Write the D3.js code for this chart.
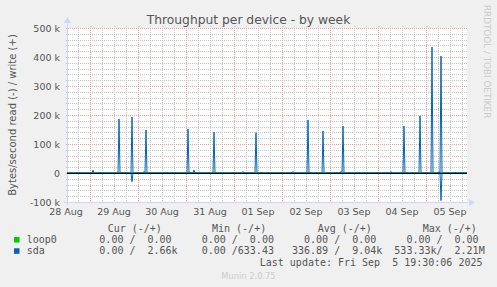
<!DOCTYPE html>
<html lang="en">
<head>
<meta charset="UTF-8">
<title>Throughput per device - by week</title>
<script src="https://cdn.jsdelivr.net/npm/d3@7"></script>
<style>
    html, body { margin: 0; padding: 0; background: #f0f0f0; overflow: hidden; }
    svg { display: block; font-family: "DejaVu Sans", sans-serif; }
    .mono { font-family: "DejaVu Sans Mono", monospace; white-space: pre; }
</style>
</head>
<body>
<svg id="chart" width="497" height="287"></svg>
<script>
// samples are 30 min apart, everything not listed is 0
const writeTimes = ["2025-08-29 01:30", "2025-08-29 14:30", "2025-08-29 21:00", "2025-08-30 03:00",
    "2025-08-30 04:00", "2025-08-31 01:00", "2025-08-31 04:00", "2025-08-31 14:00", "2025-09-01 04:30",
    "2025-09-01 11:00", "2025-09-02 05:30", "2025-09-02 13:00", "2025-09-02 20:30", "2025-09-03 05:30",
    "2025-09-03 06:30", "2025-09-04 06:30", "2025-09-04 13:00", "2025-09-04 21:00", "2025-09-04 21:30",
    "2025-09-05 03:00", "2025-09-05 06:30", "2025-09-05 07:30"];
const writeValues = [10000, 186000, 193000, 5000, 148000, 152000, 10000, 141000, 5000, 139000, 5000,
    183000, 145000, 5000, 162000, 5000, 162000, 197000, 4000, 434000, 5000, 403000];
const readTimes = ["2025-08-29 21:00", "2025-09-05 07:30"];
const readValues = [30000, 95000];

const yTicks = [-100000, 0, 100000, 200000, 300000, 400000, 500000];
const yTickLabels = ["-100 k", "0", "100 k", "200 k", "300 k", "400 k", "500 k"];
const dayLabels = ["28 Aug", "29 Aug", "30 Aug", "31 Aug", "01 Sep", "02 Sep", "03 Sep", "04 Sep", "05 Sep"];

const seriesNames = ["loop0", "sda"];
const seriesColors = ["#00cc00", "#0066b3"];
const curRead = ["0.00 ", "0.00 "], curWrite = ["0.00 ", "2.66k"];
const minRead = ["0.00 ", "0.00 "], minWrite = ["0.00 ", "633.43 "];
const avgRead = ["0.00 ", "336.89 "], avgWrite = ["0.00 ", "9.04k"];
const maxRead = ["0.00 ", "533.33k"], maxWrite = ["0.00 ", "2.21M"];
const colHeaders = ["Cur (-/+)", "Min (-/+)", "Avg (-/+)", "Max (-/+)"];

const parse = d3.utcParse("%Y-%m-%d %H:%M");
const start = parse("2025-08-28 12:30"), end = parse("2025-09-05 20:30");

const svg = d3.select("#chart");
const pLeft = 67, pRight = 467, pTop = 28, pBottom = 202;

const x = d3.scaleUtc().domain([start, end]).range([pLeft, pRight]);
const y = d3.scaleLinear().domain([-100000, 500000]).range([pBottom, pTop]);

// dotted patterns (1px on / 1px off), pixel aligned
const defs = svg.append("defs");
[["minor", "#c4c4c4"], ["major", "#eaa2a2"]].forEach(([name, color]) => {
    defs.append("pattern").attr("id", "v" + name).attr("patternUnits", "userSpaceOnUse")
        .attr("width", 1).attr("height", 2)
        .append("rect").attr("width", 1).attr("height", 1).attr("fill", color);
    defs.append("pattern").attr("id", "h" + name).attr("patternUnits", "userSpaceOnUse")
        .attr("width", 2).attr("height", 1)
        .append("rect").attr("width", 1).attr("height", 1).attr("fill", color);
});

// plot canvas
svg.append("rect").attr("x", pLeft).attr("y", pTop).attr("width", pRight - pLeft).attr("height", pBottom - pTop)
    .attr("fill", "#ffffff");

const g = svg.append("g").attr("shape-rendering", "crispEdges");
function vGrid(data, name) {
    g.selectAll(null).data(data).enter().append("rect")
        .attr("x", d => Math.round(x(d))).attr("y", pTop - 2)
        .attr("width", 1).attr("height", pBottom - pTop + 2)
        .attr("fill", `url(#v${name})`);
}
function hGrid(data, name) {
    g.selectAll(null).data(data).enter().append("rect")
        .attr("x", pLeft - 2).attr("y", d => Math.round(y(d)))
        .attr("width", pRight - pLeft + 2).attr("height", 1)
        .attr("fill", `url(#h${name})`);
}
vGrid(d3.utcHour.every(6).range(start, end), "minor");
hGrid(d3.range(-100000, 500001, 20000), "minor");
vGrid(d3.utcDay.range(start, end), "major");
hGrid(yTicks, "major");

// axes
const axisColor = "#cfd6f8";
g.append("line").attr("x1", pLeft + 0.5).attr("x2", pLeft + 0.5).attr("y1", pBottom + 3).attr("y2", pTop - 6)
    .attr("stroke", axisColor);
g.append("line").attr("x1", pLeft - 3).attr("x2", pRight + 3).attr("y1", pBottom + 0.5).attr("y2", pBottom + 0.5)
    .attr("stroke", axisColor);
svg.append("path").attr("d", `M${pLeft - 3},${pTop - 5} L${pLeft + 0.5},${pTop - 11} L${pLeft + 4},${pTop - 5} Z`)
    .attr("fill", axisColor);
svg.append("path").attr("d", `M${pRight + 2},${pBottom - 3} L${pRight + 8},${pBottom + 0.5} L${pRight + 2},${pBottom + 4} Z`)
    .attr("fill", axisColor);

// y tick labels
svg.selectAll(".ylab").data(yTicks).enter().append("text")
    .attr("x", 60).attr("y", d => y(d) + 3.5).attr("text-anchor", "end")
    .attr("font-size", 9.5).attr("fill", "#555")
    .text((d, i) => yTickLabels[i]);

// x tick labels at noon of each day
const noons = d3.utcDay.range(parse("2025-08-28 00:00"), parse("2025-09-06 00:00")).map(d => d3.utcHour.offset(d, 12));
svg.selectAll(".xlab").data(noons).enter().append("text")
    .attr("x", d => x(d)).attr("y", 214.5).attr("text-anchor", "middle")
    .attr("font-size", 9.5).attr("fill", "#555")
    .text((d, i) => dayLabels[i]);

// build series
const times = d3.utcMinute.every(30).range(start, d3.utcMinute.offset(end, 1));
const wMap = new Map(writeTimes.map((t, i) => [+parse(t), writeValues[i]]));
const rMap = new Map(readTimes.map((t, i) => [+parse(t), readValues[i]]));
const loop0 = times.map(t => ({ t, w: 0, r: 0 }));
const sda = times.map(t => ({ t, w: wMap.get(+t) || 0, r: rMap.get(+t) || 0 }));

const lineW = d3.line().x(d => x(d.t)).y(d => y(d.w));
const lineR = d3.line().x(d => x(d.t)).y(d => y(-d.r));

[loop0, sda].forEach((s, i) => {
    svg.append("path").attr("d", lineR(s)).attr("fill", "none").attr("stroke", seriesColors[i]).attr("stroke-width", 1);
    svg.append("path").attr("d", lineW(s)).attr("fill", "none").attr("stroke", seriesColors[i]).attr("stroke-width", 1);
});

// zero rule
svg.append("line").attr("x1", pLeft).attr("x2", pRight).attr("y1", y(0) + 0.5).attr("y2", y(0) + 0.5)
    .attr("stroke", "#000").attr("stroke-width", 1.2);

// title and labels
svg.append("text").attr("x", 248.5).attr("y", 23.5).attr("text-anchor", "middle")
    .attr("font-size", 12.3).attr("fill", "#555").text("Throughput per device - by week");
svg.append("text").attr("transform", `translate(15.5,${(pTop + pBottom) / 2}) rotate(-90)`)
    .attr("text-anchor", "middle").attr("font-size", 10).attr("fill", "#555")
    .text("Bytes/second read (-) / write (+)");
svg.append("text").attr("transform", "translate(484,5) rotate(90)")
    .attr("font-size", 8.8).attr("fill", "#cccccc").text("RRDTOOL / TOBI OETIKER");

// legend
const headerX = [107.7, 212, 317.7, 422.7];
svg.selectAll(".hdr").data(colHeaders).enter().append("text").attr("class", "mono")
    .attr("x", (d, i) => headerX[i]).attr("y", 231.5).attr("font-size", 10).attr("fill", "#555").text(d => d);

const cell = (r, w) => `${r.padStart(7)}/${w.padStart(7)}`;
seriesNames.forEach((name, i) => {
    const yy = 243 + i * 11.3;
    svg.append("rect").attr("x", 14).attr("y", yy - 6).attr("width", 5.5).attr("height", 5.5)
        .attr("fill", seriesColors[i]);
    svg.append("text").attr("class", "mono").attr("x", 26.7).attr("y", yy)
        .attr("font-size", 10).attr("fill", "#555").text(name);
    const row = [cell(curRead[i], curWrite[i]), cell(minRead[i], minWrite[i]),
        cell(avgRead[i], avgWrite[i]), cell(maxRead[i], maxWrite[i])].join("  ");
    svg.append("text").attr("class", "mono").attr("x", 87.3).attr("y", yy)
        .attr("font-size", 10).attr("fill", "#555").text(row);
});
svg.append("text").attr("class", "mono").attr("x", 482.5).attr("y", 266.3).attr("text-anchor", "end")
    .attr("font-size", 10).attr("fill", "#555").text("Last update: Fri Sep  5 19:30:06 2025");
svg.append("text").attr("x", 248.5).attr("y", 279).attr("text-anchor", "middle")
    .attr("font-size", 8.3).attr("fill", "#cccccc").text("Munin 2.0.75");
</script>
</body>
</html>
